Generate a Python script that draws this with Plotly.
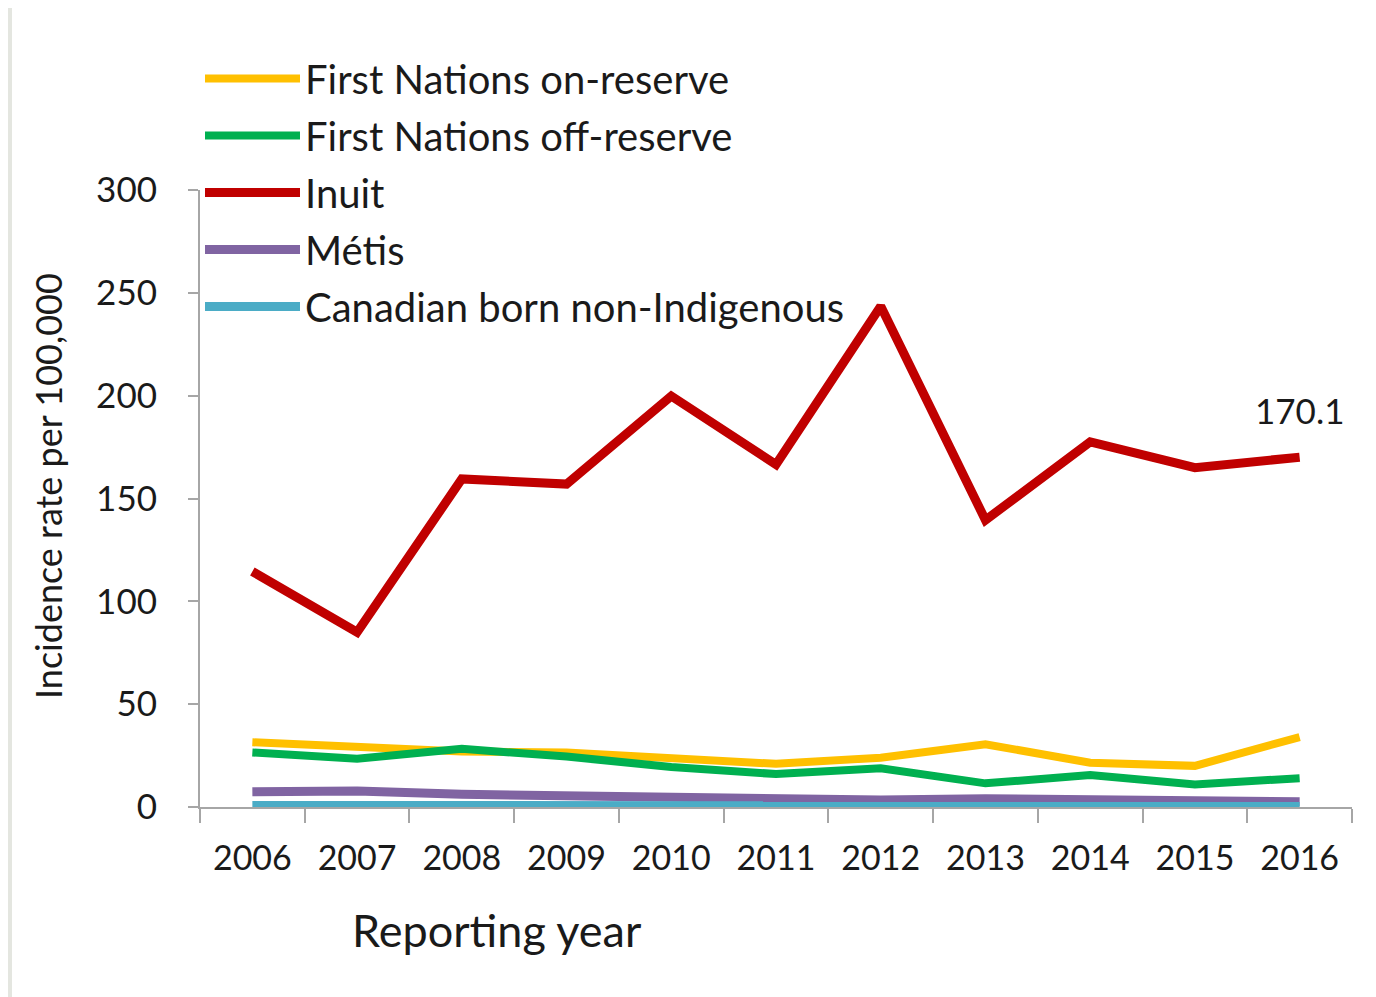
import plotly.graph_objects as go

years = ["2006", "2007", "2008", "2009", "2010", "2011", "2012", "2013", "2014", "2015", "2016"]
fn_on_reserve = [31.5, 29.5, 27.0, 26.5, 23.5, 21.0, 24.0, 30.5, 21.5, 20.0, 34.0]
fn_off_reserve = [26.5, 23.5, 28.3, 24.5, 19.5, 16.0, 18.8, 11.5, 15.5, 11.0, 14.0]
inuit = [114.5, 85.0, 159.5, 157.0, 199.8, 166.5, 243.5, 139.5, 177.5, 165.0, 170.1]
metis = [7.4, 7.8, 6.2, 5.4, 5.3, 4.5, 3.4, 4.0, 4.0, 3.0, 2.5]
non_indigenous = [0.7, 0.7, 0.7, 0.6, 0.6, 0.6, 0.6, 0.6, 0.6, 0.6, 0.6]

series = [
    ("First Nations on-reserve", fn_on_reserve, "#FFC000", 8),
    ("First Nations off-reserve", fn_off_reserve, "#00B050", 8),
    ("Inuit", inuit, "#C00000", 9),
    ("Métis", metis, "#8064A2", 9),
    ("Canadian born non-Indigenous", non_indigenous, "#4BACC6", 9),
]

FONT = "Lato"
TXT = "#1a1a1a"
# page body has an 8px margin; figure sized to fill the rest of the window
W, H = 1368, 989
L, R, T, B = 192, 24, 182, 190
PW, PH = W - L - R, H - T - B

fig = go.Figure()
for i, (name, vals, color, lw) in enumerate(series):
    fig.add_trace(go.Scatter(
        x=years, y=vals, name=name, mode="lines",
        line=dict(color=color, width=lw),
        legendgroup=f"g{i}",
    ))

fig.update_layout(
    width=W, height=H,
    paper_bgcolor="white", plot_bgcolor="white",
    margin=dict(l=L, r=R, t=T, b=B),
    font=dict(family=FONT, color=TXT, size=32),
    showlegend=True,
    legend=dict(
        x=0.0, y=(PH + T - 38) / PH, xanchor="left", yanchor="top",
        font=dict(family=FONT, size=40, color=TXT),
        bgcolor="rgba(0,0,0,0)",
        itemwidth=95,
        tracegroupgap=2,
    ),
    xaxis=dict(
        type="category", range=[-0.5, len(years) - 0.5],
        showline=True, linecolor="#a6a6a6", linewidth=2,
        ticks="outside", tickson="boundaries", ticklen=14, tickcolor="#a6a6a6", tickwidth=2,
        showgrid=False, zeroline=False,
        tickfont=dict(family=FONT, size=34, color=TXT),
        ticklabelstandoff=20,
    ),
    yaxis=dict(
        range=[0, 300], tickvals=[0, 50, 100, 150, 200, 250, 300],
        showline=True, linecolor="#a6a6a6", linewidth=2,
        ticks="outside", ticklen=10, tickcolor="#a6a6a6", tickwidth=2,
        showgrid=False, zeroline=False,
        tickfont=dict(family=FONT, size=35, color=TXT),
        ticklabelstandoff=24,
    ),
    shapes=[
        dict(type="rect", xref="paper", yref="paper", x0=-L / PW, x1=-(L - 4) / PW,
             y0=-B / PH, y1=(PH + T) / PH,
             fillcolor="#e4e6e0", line=dict(width=0), layer="below"),
    ],
    annotations=[
        dict(text="170.1", x=len(years) - 1, y=inuit[-1], xref="x", yref="y",
             yshift=47, showarrow=False, font=dict(family=FONT, size=35, color=TXT)),
        dict(text="Reporting year", xref="paper", yref="paper", x=(489 - L) / PW, y=-(922 - (T + PH)) / PH,
             showarrow=False, xanchor="center", yanchor="middle",
             font=dict(family=FONT, size=45, color=TXT)),
        dict(text="Incidence rate per 100,000", xref="paper", yref="paper", x=(40 - L) / PW,
             y=((T + PH) - 478) / PH,
             showarrow=False, textangle=-90, xanchor="center", yanchor="middle",
             font=dict(family=FONT, size=36, color=TXT)),
    ],
)

fig.write_html("out.html")
